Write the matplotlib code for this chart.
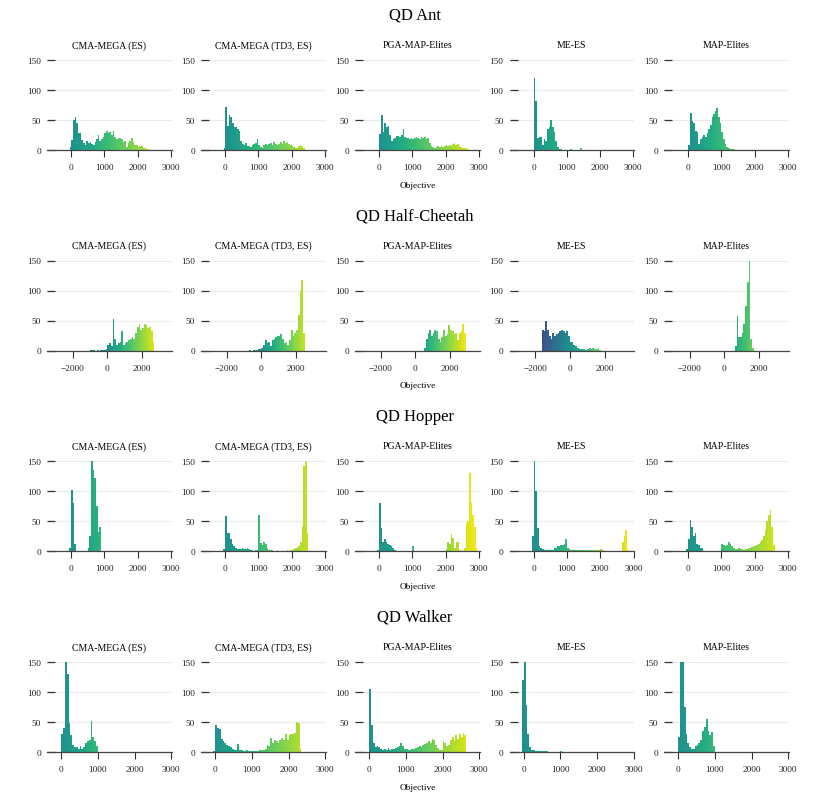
import matplotlib
matplotlib.use("Agg")
import matplotlib.pyplot as plt
import numpy as np

plt.rcParams['font.family'] = ['Liberation Serif', 'DejaVu Serif']

ENVS = ["QD Ant", "QD Half-Cheetah", "QD Hopper", "QD Walker"]
ALGOS = ["CMA-MEGA (ES)", "CMA-MEGA (TD3, ES)", "PGA-MAP-Elites", "ME-ES", "MAP-Elites"]

# bin width and left edge of the first bin, per algorithm
ant_width = 50
ant_start = [-50, -50, 0, 0, 0]
ant_cma_mega_es = [5, 17, 50, 55, 45, 28, 28, 17, 12, 8, 15, 12, 14, 10, 8, 14, 18, 25, 15, 18,
                   22, 28, 32, 28, 30, 25, 32, 22, 18, 20, 20, 18, 14, 15, 5, 12, 15, 20, 14, 8,
                   8, 5, 6, 6, 3, 4, 2, 1]
ant_cma_mega_td3 = [3, 72, 40, 58, 55, 45, 38, 38, 35, 32, 15, 10, 8, 12, 6, 6, 5, 8, 10, 12,
                    18, 8, 5, 4, 8, 10, 8, 10, 12, 8, 14, 10, 8, 10, 14, 10, 15, 12, 14, 10,
                    8, 6, 5, 4, 3, 6, 8, 6, 3]
ant_pga_me = [27, 58, 30, 45, 38, 40, 25, 15, 18, 20, 24, 24, 22, 25, 35, 22, 20, 20, 18, 20,
              18, 20, 22, 20, 18, 22, 20, 22, 18, 20, 12, 6, 5, 4, 5, 6, 5, 7, 5, 6,
              8, 6, 8, 6, 10, 12, 8, 10, 6, 5, 4, 3, 3, 1]
ant_me_es = [120, 82, 20, 22, 22, 8, 18, 15, 35, 38, 50, 38, 30, 15, 5, 2, 1, 0, 0, 0,
             0, 0, 1, 0, 0, 0, 0, 0, 3]
ant_map_elites = [8, 62, 48, 45, 32, 30, 10, 18, 22, 25, 22, 28, 35, 42, 55, 60, 65, 70, 55, 45,
                  30, 18, 10, 5, 3, 2, 2, 2]

cheetah_width = 100
cheetah_start = [-1000, -700, 500, -1600, 600]
cheetah_cma_mega_es = [1, 1, 1, 0, 1, 0, 1, 1, 1, 2, 10, 12, 8, 52, 20, 10, 12, 15, 32, 10,
                       12, 15, 18, 20, 22, 20, 30, 40, 45, 35, 38, 45, 42, 38, 40, 32, 15]
cheetah_cma_mega_td3 = [1, 0, 1, 1, 1, 2, 2, 5, 10, 18, 12, 15, 8, 18, 20, 22, 25, 25, 27, 20,
                        12, 15, 10, 18, 35, 25, 30, 35, 60, 100, 117, 30]
cheetah_pga_me = [5, 20, 30, 35, 25, 30, 35, 32, 20, 15, 22, 35, 25, 28, 43, 35, 32, 28, 30, 18,
                  30, 33, 45, 30]
cheetah_me_es = [35, 32, 50, 35, 25, 20, 30, 25, 28, 30, 32, 35, 32, 30, 32, 25, 15, 15, 10, 8,
                 5, 3, 3, 2, 2, 1, 2, 5, 3, 5, 3, 3, 5, 1]
cheetah_map_elites = [8, 58, 22, 22, 30, 45, 75, 115, 150, 20, 4]

hopper_width = 50
hopper_start = [-50, -50, -50, -50, -50]
hopper_cma_mega_es = [5, 102, 80, 12, 0, 0, 0, 0, 0, 0, 0, 5, 25, 150, 135, 122, 75, 32, 40]
hopper_cma_mega_td3 = [3, 58, 30, 30, 20, 12, 8, 5, 4, 4, 3, 5, 4, 4, 5, 3, 1, 1, 0, 1,
                       1, 60, 14, 10, 15, 12, 5, 2, 2, 1, 0, 0, 1, 0, 0, 0, 0, 0, 1, 0,
                       1, 2, 3, 5, 5, 8, 15, 40, 142, 150, 30]
hopper_pga_me = [2, 80, 38, 15, 20, 15, 12, 10, 8, 5, 1, 0, 0, 0, 0, 0, 0, 0, 0, 0,
                 0, 8, 0, 0, 0, 0, 0, 0, 0, 0, 0, 0, 0, 0, 0, 0, 0, 0, 0, 0,
                 0, 3, 15, 12, 28, 22, 5, 15, 15, 2, 0, 0, 5, 45, 50, 130, 80, 60, 40, 5]
hopper_me_es = [25, 150, 100, 38, 8, 5, 3, 2, 1, 1, 1, 1, 2, 5, 5, 8, 8, 10, 10, 12,
                20, 5, 3, 2, 1, 2, 1, 1, 2, 1, 1, 1, 1, 1, 2, 2, 1, 1, 2, 1,
                1, 3, 1, 0, 0, 0, 0, 0, 0, 0, 0, 0, 0, 0, 15, 25, 35, 2]
hopper_map_elites = [3, 20, 52, 40, 25, 30, 12, 10, 5, 5, 0, 0, 0, 0, 0, 0, 0, 0, 0, 0,
                     0, 12, 10, 8, 10, 15, 12, 8, 5, 3, 3, 5, 3, 3, 2, 3, 3, 5, 5, 6,
                     8, 8, 10, 12, 15, 18, 25, 35, 50, 60, 68, 40, 10]

walker_width = 50
walker_start = [0, -50, 0, -50, 0]
walker_cma_mega_es = [30, 40, 150, 130, 48, 28, 12, 8, 8, 5, 10, 5, 8, 15, 18, 20, 52, 25, 18, 10]
walker_cma_mega_td3 = [2, 45, 40, 38, 22, 18, 15, 12, 10, 8, 5, 3, 4, 14, 3, 4, 2, 2, 3, 1,
                       2, 1, 1, 1, 1, 3, 3, 3, 5, 12, 10, 24, 15, 20, 18, 15, 20, 24, 20, 30,
                       20, 28, 30, 30, 32, 50, 48, 5]
walker_pga_me = [105, 45, 15, 8, 10, 8, 5, 4, 5, 4, 6, 4, 5, 5, 6, 8, 10, 15, 10, 5,
                 5, 4, 4, 5, 5, 6, 8, 10, 8, 12, 14, 15, 18, 15, 22, 20, 12, 6, 4, 3,
                 18, 15, 10, 12, 20, 25, 18, 28, 22, 30, 25, 32, 28]
walker_me_es = [120, 150, 78, 30, 8, 4, 3, 2, 1, 1, 1, 1, 2, 1, 0, 0, 0, 0, 0, 0, 0, 2]
walker_map_elites = [25, 150, 150, 75, 30, 15, 8, 5, 5, 10, 12, 15, 20, 35, 42, 55, 35, 28, 33, 10]

env_counts = [
    [ant_cma_mega_es, ant_cma_mega_td3, ant_pga_me, ant_me_es, ant_map_elites],
    [cheetah_cma_mega_es, cheetah_cma_mega_td3, cheetah_pga_me, cheetah_me_es, cheetah_map_elites],
    [hopper_cma_mega_es, hopper_cma_mega_td3, hopper_pga_me, hopper_me_es, hopper_map_elites],
    [walker_cma_mega_es, walker_cma_mega_td3, walker_pga_me, walker_me_es, walker_map_elites],
]
env_starts = [ant_start, cheetah_start, hopper_start, walker_start]
env_widths = [ant_width, cheetah_width, hopper_width, walker_width]
env_xlims = [(-735, 3025), (-3470, 3690), (-725, 3015), (-390, 3010)]
env_xticks = [[0, 1000, 2000, 3000], [-2000, 0, 2000], [0, 1000, 2000, 3000], [0, 1000, 2000, 3000]]

W, H = 830, 803
fig = plt.figure(figsize=(W / 100, H / 100), dpi=100)
norm = matplotlib.colors.Normalize(-3000, 3000)
cmap = plt.get_cmap('viridis')

col_left = [47, 201, 355, 509.5, 664]
row_top = [61, 261.5, 462, 663]
ax_w, ax_h = 124.5, 90

for r, env in enumerate(ENVS):
    for c, algo in enumerate(ALGOS):
        ax = fig.add_axes([col_left[c] / W, 1 - (row_top[r] + ax_h) / H, ax_w / W, ax_h / H])
        counts = np.array(env_counts[r][c])
        width = env_widths[r]
        left = env_starts[r][c] + width * np.arange(len(counts))
        colors = cmap(norm(left + width / 2))
        ax.bar(left, counts, width=width, align='edge', color=colors, linewidth=0, zorder=2)

        ax.set_xlim(*env_xlims[r])
        ax.set_ylim(0, 150)
        ax.set_xticks(env_xticks[r])
        ax.set_yticks([0, 50, 100, 150])
        ax.grid(axis='y', color='#ebebeb', linewidth=0.8, zorder=0)
        ax.set_axisbelow(True)
        for s in ['top', 'right', 'left']:
            ax.spines[s].set_visible(False)
        ax.spines['bottom'].set_color('#444444')
        ax.spines['bottom'].set_linewidth(0.9)
        ax.spines['bottom'].set_zorder(3)
        ax.tick_params(axis='x', direction='out', length=5, width=0.8, color='#333333',
                       labelsize=6.7, pad=4.5, labelcolor='#222222')
        ax.tick_params(axis='y', direction='in', length=6, width=0.9, color='#333333',
                       labelsize=6.7, pad=4.5, labelcolor='#222222')
        ax.set_title(algo, fontsize=7, pad=9)
        if c == 2:
            ax.set_xlabel("Objective", fontsize=6.7, labelpad=7)

    fig.text(0.5, 1 - (row_top[r] - 45) / H, env, ha='center', va='center', fontsize=12)

fig.savefig("out.png", dpi=100)
